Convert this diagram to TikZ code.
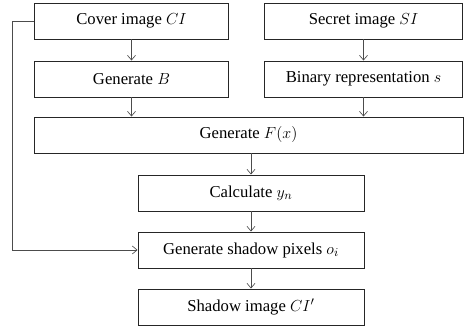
\documentclass[tikz,border=0pt]{standalone}
\usepackage{fontspec}
\setmainfont{Liberation Serif}
\usepackage{tikz}
\usetikzlibrary{arrows.meta}
\usetikzlibrary{positioning}

\begin{document}
\begin{tikzpicture}[x=0.75pt,y=0.75pt,yscale=-1,xscale=1]
 \useasboundingbox (0,0) rectangle (465,327);
 \tikzstyle{arrow} = [draw=black!70,line width=0.5pt,-{Straight Barb[length=3.5pt,width=6pt]}]
 \tikzstyle{stage} = [draw=black!85,line width=0.7pt,minimum height=27pt,inner sep=0pt,font=\fontsize{12.5}{14}\selectfont]
  %Top row, the two inputs
 \node [stage,minimum width=146pt] (cover) at (131.5,21) {Cover image $CI$};
 \node [stage,minimum width=149pt] (secret) at (363.5,21) {Secret image $SI$};
 \node [stage,minimum width=146pt] (genB) at (131.5,79) {Generate $B$};
 \node [stage,minimum width=149pt] (binary) at (363.5,79) {Binary representation $s$};
  %Wide box in the middle
 \node [stage,minimum width=321.75pt] (genF) at (248.5,135) {Generate $F(x)$};
  %Lower column
 \node [stage,minimum width=169.5pt] (calc) at (251,193) {Calculate $y_n$};
 \node [stage,minimum width=169.5pt] (genO) at (251,250) {Generate shadow pixels $o_i$};
 \node [stage,minimum width=169.5pt] (shadow) at (251,307) {Shadow image $CI'$};
  %Arrows
 \draw [arrow] (cover) -- (genB);
 \draw [arrow] (secret) -- (binary);
 \draw [arrow] (genB.south) -- (genB.south |- genF.north);
 \draw [arrow] (binary.south) -- (binary.south |- genF.north);
 \draw [arrow] (genF.south -| calc.north) -- (calc.north);
 \draw [arrow] (calc) -- (genO);
 \draw [arrow] (genO) -- (shadow);
  %Feedback line on the left
 \coordinate (bend) at (12,21);
 \draw [arrow] (cover.west) -- (bend) |- (genO.west);
\end{tikzpicture}
\end{document}
